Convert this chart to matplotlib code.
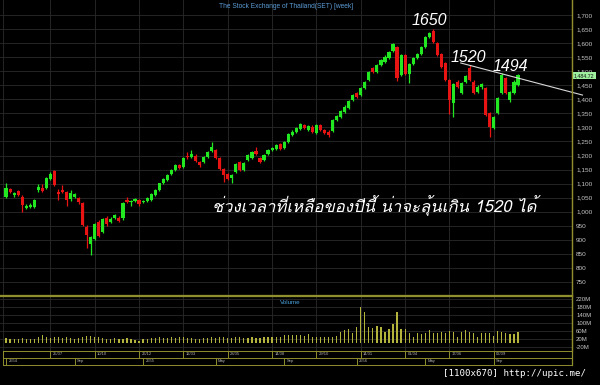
import numpy as np
import pandas as pd
import matplotlib
matplotlib.use("Agg")
import matplotlib.pyplot as plt
from matplotlib import font_manager as fm, ft2font
from matplotlib.lines import Line2D
import matplotlib.transforms as mtransforms

# ---------------- data ----------------
first_week = "2011-05-09"
opens = [1054,1081,1058,1073,1054,1015,1018,1016,1077,1085,
         1085,1117,1145,1071,1078,1069,1046,1053,1050,1030,
         947,884,903,965,929,979,964,979,979,977,
         1042,1034,1038,1042,1035,1038,1042,1060,1077,1101,
         1113,1134,1148,1166,1160,1200,1196,1200,1177,1178,
         1196,1216,1220,1190,1152,1133,1119,1143,1178,1149,
         1184,1190,1216,1190,1184,1205,1220,1222,1240,1228,
         1249,1273,1283,1294,1309,1291,1303,1279,1309,1291,
         1285,1287,1327,1338,1354,1368,1398,1421,1415,1439,
         1469,1510,1498,1522,1534,1546,1572,1587,1487,1558,
         1490,1525,1547,1560,1587,1622,1641,1599,1560,1530,
         1469,1386,1463,1421,1463,1510,1463,1427,1442,1439,
         1350,1297,1350,1421,1475,1398,1421,1451]
closes = [1086,1071,1066,1060,1025,1022,1025,1042,1089,1075,
          1120,1134,1095,1062,1071,1042,1066,1062,1034,953,
          917,911,956,915,974,955,975,988,967,1030,
          1034,1038,1045,1027,1039,1050,1062,1078,1101,1117,
          1131,1148,1166,1157,1191,1193,1206,1181,1165,1196,
          1214,1231,1190,1152,1131,1117,1131,1169,1149,1172,
          1202,1212,1205,1176,1202,1220,1228,1237,1223,1247,
          1276,1285,1299,1311,1297,1306,1285,1309,1291,1280,
          1273,1327,1339,1359,1374,1394,1415,1409,1439,1461,
          1498,1498,1522,1540,1552,1567,1596,1475,1558,1490,
          1525,1547,1562,1587,1622,1636,1605,1558,1516,1469,
          1398,1453,1445,1457,1481,1469,1421,1445,1453,1344,
          1303,1338,1404,1487,1421,1427,1463,1484.72]
highs = [1101,1085,1070,1078,1058,1026,1030,1046,1100,1100,
         1124,1140,1150,1080,1095,1073,1078,1068,1054,1034,
         952,915,960,970,978,984,980,992,984,1034,
         1053,1042,1048,1046,1043,1054,1066,1082,1104,1120,
         1134,1151,1169,1170,1195,1212,1220,1204,1181,1200,
         1217,1247,1224,1194,1156,1137,1135,1173,1182,1176,
         1206,1216,1231,1194,1206,1224,1232,1241,1244,1251,
         1280,1289,1303,1315,1313,1310,1307,1313,1313,1295,
         1289,1331,1343,1363,1378,1398,1419,1425,1443,1465,
         1502,1514,1526,1544,1556,1571,1600,1591,1562,1562,
         1529,1551,1566,1591,1626,1640,1650,1603,1564,1534,
         1473,1457,1467,1463,1485,1522,1467,1449,1457,1443,
         1354,1342,1408,1494,1479,1431,1467,1491]
lows = [1048,1066,1054,1055,1000,1010,1014,1012,1072,1070,
        1080,1112,1090,1042,1066,1020,1040,1048,1028,948,
        870,846,898,910,924,950,960,975,962,972,
        1030,1020,1034,1022,1031,1034,1038,1056,1073,1097,
        1109,1130,1144,1153,1156,1188,1192,1176,1158,1174,
        1192,1212,1186,1148,1107,1112,1104,1139,1145,1145,
        1180,1186,1201,1172,1180,1201,1216,1218,1219,1224,
        1245,1269,1279,1290,1293,1287,1281,1275,1287,1276,
        1266,1283,1323,1334,1350,1364,1394,1405,1411,1435,
        1465,1494,1494,1518,1530,1542,1568,1465,1483,1486,
        1458,1521,1543,1556,1583,1618,1600,1554,1512,1465,
        1348,1338,1441,1417,1459,1465,1417,1423,1438,1340,
        1267,1293,1346,1417,1417,1391,1417,1447]
volumes_m = [25,20,22,20,24,20,22,18,28,38,
             30,27,32,28,24,30,25,22,24,30,
             35,33,28,30,26,20,22,24,20,22,
             25,18,15,12,20,22,24,26,28,25,
             27,30,26,28,30,26,24,22,18,24,
             26,28,27,30,32,26,24,30,28,26,
             27,28,26,24,28,30,28,30,32,38,
             42,40,42,
             40,35,45,32,28,32,28,32,28,35,
             57,65,68,52,78,182,157,78,73,85,
             82,57,68,93,157,68,68,48,32,48,
             45,48,65,48,52,57,52,62,57,32,
             57,65,57,48,32,52,48,48,35,62,
             57,48,45,45,57]

row1_dates = ["2011-07-25","2011-10-10","2011-12-26","2012-03-12","2012-05-28",
              "2012-08-14","2012-10-29","2013-01-14","2013-04-01","2013-06-17","2013-09-02"]
row1_labels = ["25/07","10/10","26/12","12/03","28/05","14/08","29/10","14/01","01/04","17/06","02/09"]
row2_dates = ["2011-05-09","2011-09-05","2012-01-02","2012-05-07","2012-09-03",
              "2013-01-07","2013-05-06","2013-09-02"]
row2_labels = ["2554","Sep","2555","May","Sep","2556","May","Sep"]

price_ticks = list(range(750, 1701, 50))
volume_ticks = [-20, 20, 60, 100, 140, 180, 220]

peak_labels = ["1650", "1520", "1494"]
peak_weeks = [105, 114.6, 125]
peak_prices = [1679, 1547, 1515]
trend_weeks = [112.8, 143.0]
trend_prices = [1529, 1415]

title = "The Stock Exchange of Thailand(SET) [week]"
thai_text = "ช่วงเวลาที่เหลือของปีนี้ น่าจะลุ้นเกิน 1520 ได้"
watermark = "[1100x670] http://upic.me/"

# ---------------- fonts ----------------
def find_font_with(chars):
    seen = set()
    for f in fm.fontManager.ttflist:
        if f.fname in seen:
            continue
        seen.add(f.fname)
        try:
            cmap = ft2font.FT2Font(f.fname).get_charmap()
        except Exception:
            continue
        if all(ord(ch) in cmap for ch in chars):
            return f.name
    return None

thai_font = find_font_with("ชว่งเลาที")
base = "Liberation Sans"
plt.rcParams["font.family"] = [base, "DejaVu Sans"]

# ---------------- figure ----------------
W, H = 600, 385
fig = plt.figure(figsize=(W / 100, H / 100), dpi=100, facecolor="black")

def frac(x0, y0, x1, y1):
    return [x0 / W, 1 - y1 / H, (x1 - x0) / W, (y1 - y0) / H]

olive = "#8f8f2e"
grid_c = "#2a2a2a"
label_c = "#c8c8c8"
up_c = "#22e822"
dn_c = "#e81414"

weeks = pd.date_range(first_week, periods=len(closes), freq="7D")
idx = np.arange(len(closes))
o = np.array(opens, float); c = np.array(closes, float)
h = np.array(highs, float); l = np.array(lows, float)
up = c >= o
colors = np.where(up, up_c, dn_c)

def week_index(d):
    return int(weeks.searchsorted(pd.Timestamp(d), side="right")) - 1

row1_idx = [week_index(d) for d in row1_dates]
row2_idx = [week_index(d) for d in row2_dates]

xlim = (-1.5, 140.4)

ax = fig.add_axes(frac(0, 0, 572, 295))
ax.set_facecolor("black")
ax.set_xlim(*xlim)
ax.set_ylim(704, 1753)
ax.vlines(idx, l, h, colors=colors, lw=0.9, zorder=3)
body = np.maximum(np.abs(c - o), 2.5)
ax.bar(idx, body, bottom=np.minimum(o, c), width=0.78, color=colors, zorder=4, linewidth=0)
ax.plot(trend_weeks, trend_prices, color="#d8d8d8", lw=0.8, zorder=5, clip_on=False)

ax.yaxis.tick_right()
ax.set_yticks(price_ticks)
ax.set_yticklabels([f"{v:,}" for v in price_ticks], fontsize=4.6, color=label_c)
ax.set_xticks(row1_idx)
ax.set_xticklabels([])
ax.tick_params(length=0, pad=3)
ax.grid(True, color=grid_c, lw=0.6)
ax.axvline(-0.8, color=grid_c, lw=0.6)
for s in ["left", "top"]:
    ax.spines[s].set_visible(False)
for s in ["right", "bottom"]:
    ax.spines[s].set_color(olive)
    ax.spines[s].set_linewidth(0.9)

for t, xw, yp in zip(peak_labels, peak_weeks, peak_prices):
    ax.text(xw, yp, t, fontsize=11.5, style="italic", color="white",
            ha="center", va="center", zorder=6)

thai_family = [thai_font, base] if thai_font else [base, "DejaVu Sans"]
ax.text(51.1, 1024, thai_text, fontsize=12, style="italic", color="white",
        ha="left", va="center", family=thai_family, zorder=6)

trans = mtransforms.blended_transform_factory(ax.transAxes, ax.transData)
ax.text(1.003, closes[-1], f"{closes[-1]:,.2f}", transform=trans, fontsize=3.8,
        color="#101010", ha="left", va="center",
        bbox=dict(boxstyle="square,pad=0.25", fc="#9ef09e", ec="none"), clip_on=False)

fig.text(286 / W, 1 - 6 / H, title, fontsize=4.8, color="#5b9bd5", ha="center", va="center")

# ---------------- volume ----------------
av = fig.add_axes(frac(0, 296, 572, 351))
av.set_facecolor("black")
av.set_xlim(*xlim)
av.set_ylim(-40, 235)
av.bar(idx, volumes_m, width=0.3, color="#b4b43c", linewidth=0, zorder=3)
av.yaxis.tick_right()
av.set_yticks(volume_ticks)
av.set_yticklabels([f"{v}M" for v in volume_ticks], fontsize=4.3, color=label_c)
av.set_xticks(row1_idx)
av.set_xticklabels([])
av.tick_params(length=0, pad=3)
av.grid(True, color=grid_c, lw=0.6)
av.axvline(-0.8, color=grid_c, lw=0.6)
for s in ["left", "bottom"]:
    av.spines[s].set_visible(False)
for s in ["right", "top"]:
    av.spines[s].set_color(olive)
    av.spines[s].set_linewidth(0.9)
av.text(0.508, 0.93, "Volume", transform=av.transAxes, fontsize=4.5,
        color="#4aa3df", ha="center", va="top")

# ---------------- date rows ----------------
ad = fig.add_axes(frac(0, 351, 572, 364.5))
ad.set_facecolor("black")
ad.set_xlim(*xlim)
ad.set_ylim(0, 2)
ad.axis("off")
for yy in (0, 1, 2):
    ad.plot([-0.8, xlim[1]], [yy, yy], color=olive, lw=0.7, clip_on=False)
ad.plot([-0.8, -0.8], [0, 2], color=olive, lw=0.7)
for xi, lab in zip(row1_idx, row1_labels):
    ad.plot([xi, xi], [1, 2], color=olive, lw=0.7)
    ad.text(xi + 0.6, 1.5, lab, fontsize=3.0, color="#b0b0b0", ha="left", va="center")
for xi, lab in zip(row2_idx, row2_labels):
    xs = max(xi, -0.8)
    ad.plot([xs, xs], [0, 1], color=olive, lw=0.7)
    ad.text(xs + 0.6, 0.5, lab, fontsize=3.0, color="#b0b0b0", ha="left", va="center")

fig.add_artist(Line2D([572 / W, 572 / W], [1 - 364.5 / H, 1], color=olive, lw=0.9))

fig.text(443 / W, 1 - 373 / H, watermark, fontsize=6.6, color="white",
         family="DejaVu Sans Mono", ha="left", va="center")

fig.savefig("out.png", dpi=100, facecolor="black")
